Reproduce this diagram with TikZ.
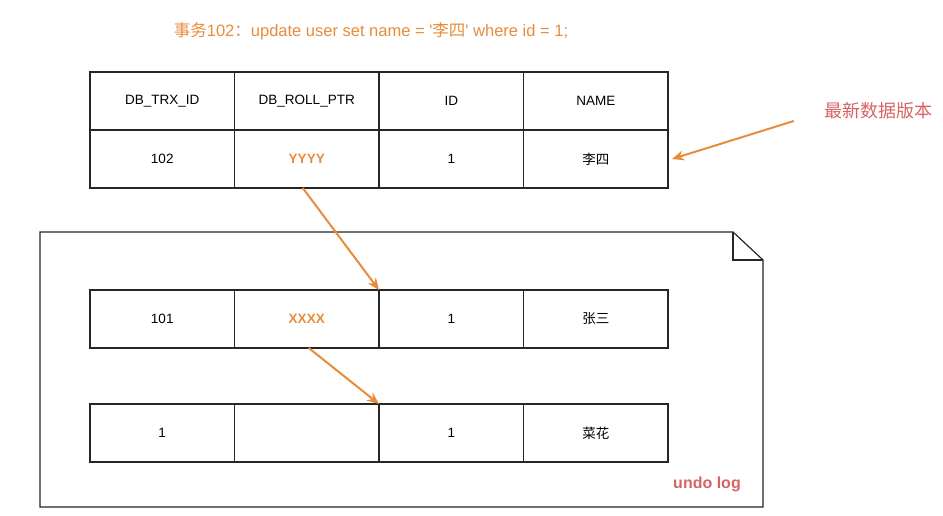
\documentclass[tikz,border=0pt]{standalone}
\usepackage{fontspec}
\setmainfont{Liberation Sans}
\newfontfamily\cjk{Noto Sans CJK SC}
\usetikzlibrary{arrows.meta,positioning}
\definecolor{txorange}{RGB}{232,140,60}
\definecolor{logred}{RGB}{214,100,100}

\begin{document}
\begin{tikzpicture}[x=1pt,y=-1pt,node distance=0pt,cell/.style={draw=black!85,line width=1.2pt,minimum width=144.5pt,minimum height=58pt,inner sep=0pt,outer sep=0pt,font=\fontsize{13.5}{15}\selectfont,anchor=north west},ptr/.style={cell,text=txorange,font=\bfseries\fontsize{13.5}{15}\selectfont},note/.style={text=logred,inner sep=0pt},arr/.style={-{Stealth[length=12pt,width=10pt]},draw=txorange,line width=2pt}]
\useasboundingbox (0,0) rectangle (943,516);
\node[text=txorange,font=\fontsize{16.5}{18}\selectfont,inner sep=0pt] (title) at (371,31) {{\cjk 事务}102{\cjk ：}update user set name = \textquotesingle{\cjk 李四}\textquotesingle{} where id = 1;};
\node[cell] (hdtrx) at (90,72) {DB\_TRX\_ID};
\node[cell,right=of hdtrx] (hdptr) {DB\_ROLL\_PTR};
\node[cell,right=of hdptr] (hdid) {ID};
\node[cell,right=of hdid] (hdname) {NAME};
\node[cell,below=of hdtrx] (vtrx) {102};
\node[ptr,right=of vtrx] (vptr) {YYYY};
\node[cell,right=of vptr] (vid) {1};
\node[cell,right=of vid] (vname) {\cjk 李四};
\draw[line width=1.2pt,black!85] (40,232) -- (733,232) -- (763,260) -- (763,507) -- (40,507) -- cycle;
\draw[line width=1.2pt,black!85] (733,232) -- (733,260) -- (763,260);
\node[cell,below=102pt of vtrx] (utrx) {101};
\node[ptr,right=of utrx] (uptr) {XXXX};
\node[cell,right=of uptr] (uid) {1};
\node[cell,right=of uid] (uname) {\cjk 张三};
\node[cell,below=56pt of utrx] (otrx) {1};
\node[cell,right=of otrx] (optr) {};
\node[cell,right=of optr] (oid) {1};
\node[cell,right=of oid] (oname) {\cjk 菜花};
\node[note,font=\cjk\fontsize{18}{20}\selectfont] (latest) at (878,111) {最新数据版本};
\node[note,font=\bfseries\fontsize{16}{18}\selectfont] (undo) at (707,484) {undo log};
\draw[arr] ([xshift=-4pt]vptr.south) -- (uid.north west);
\draw[arr] ([xshift=2pt]uptr.south) -- (oid.north west);
\draw[arr] ([shift={(-30,10)}]latest.west) -- ([xshift=4pt]vname.east);
\end{tikzpicture}
\end{document}
